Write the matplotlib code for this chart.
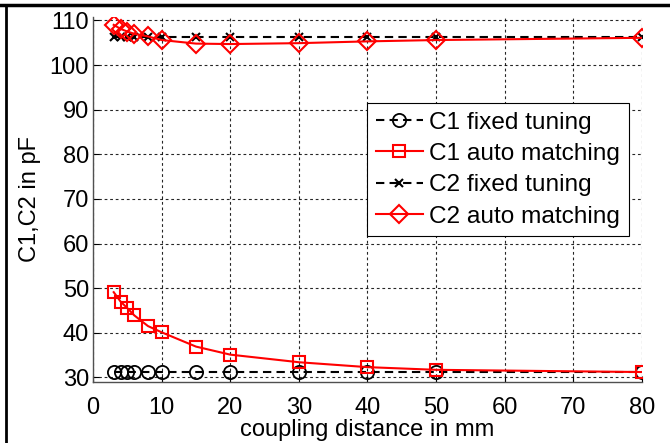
import matplotlib
matplotlib.use("Agg")
import matplotlib.pyplot as plt
from matplotlib.lines import Line2D

plt.rcParams['font.family'] = ['Liberation Sans', 'DejaVu Sans']

distance = [3, 4, 5, 6, 8, 10, 15, 20, 30, 40, 50, 80]
c1_fixed = [31.2] * 12
c1_auto = [49.1, 47.0, 45.5, 43.9, 41.5, 40.1, 36.9, 35.1, 33.4, 32.3, 31.7, 31.2]
c2_fixed = [106.2] * 12
c2_auto = [109.0, 108.1, 107.5, 107.0, 106.4, 105.6, 104.8, 104.7, 104.9, 105.3, 105.6, 106.1]

x_ticks = [0, 10, 20, 30, 40, 50, 60, 70, 80]
y_ticks = [30, 40, 50, 60, 70, 80, 90, 100, 110]

FS = 17

fig = plt.figure(figsize=(6.7, 4.43), dpi=100)
ax = fig.add_axes([0.139, 0.138, 0.819, 0.824])

ax.plot(distance, c1_fixed, linestyle=(0, (4, 2.5)), color='black', lw=1.5,
        marker='o', ms=9.5, mfc='none', mec='black', mew=1.3, label='C1 fixed tuning')
ax.plot(distance, c1_auto, linestyle='-', color='red', lw=1.5,
        marker='s', ms=9, mfc='none', mec='red', mew=1.5, label='C1 auto matching')
ax.plot(distance, c2_fixed, linestyle=(0, (4, 2.5)), color='black', lw=1.5,
        marker='x', ms=6, mec='black', mew=1.5, label='C2 fixed tuning')
ax.plot(distance, c2_auto, linestyle='-', color='red', lw=1.5,
        marker='D', ms=9, mfc='none', mec='red', mew=1.5, label='C2 auto matching')

ax.set_xlim(0, 80)
ax.set_ylim(29, 110.8)
ax.set_xticks(x_ticks)
ax.set_yticks(y_ticks)
ax.tick_params(direction='in', length=4, labelsize=FS, colors='black')
ax.tick_params(axis='x', pad=11)
ax.tick_params(axis='y', pad=3)
ax.grid(True, linestyle=(0, (2.5, 2.5)), color='black', lw=0.8, alpha=0.85)
ax.spines['top'].set_visible(False)
ax.spines['right'].set_visible(False)
for s in ('left', 'bottom'):
    ax.spines[s].set_color('#505050')
    ax.spines[s].set_linewidth(1.0)

ax.set_xlabel('coupling distance in mm', fontsize=FS, labelpad=0)
ax.set_ylabel('C1,C2 in pF', fontsize=FS, labelpad=6)

leg = ax.legend(loc='upper left', bbox_to_anchor=(0.499, 0.764), fontsize=17.6,
                frameon=True, fancybox=False, edgecolor='black', framealpha=1,
                handlelength=1.95, handletextpad=0.25, borderpad=0.35,
                labelspacing=0.38, borderaxespad=0)
leg.get_frame().set_linewidth(0.8)

fig.add_artist(Line2D([0, 1], [1 - 5 / 443, 1 - 5 / 443], color='black', lw=2.5,
                      transform=fig.transFigure))
fig.add_artist(Line2D([6 / 670, 6 / 670], [0, 1 - 5 / 443], color='black', lw=2,
                      transform=fig.transFigure))

fig.savefig('out.png', dpi=100)
